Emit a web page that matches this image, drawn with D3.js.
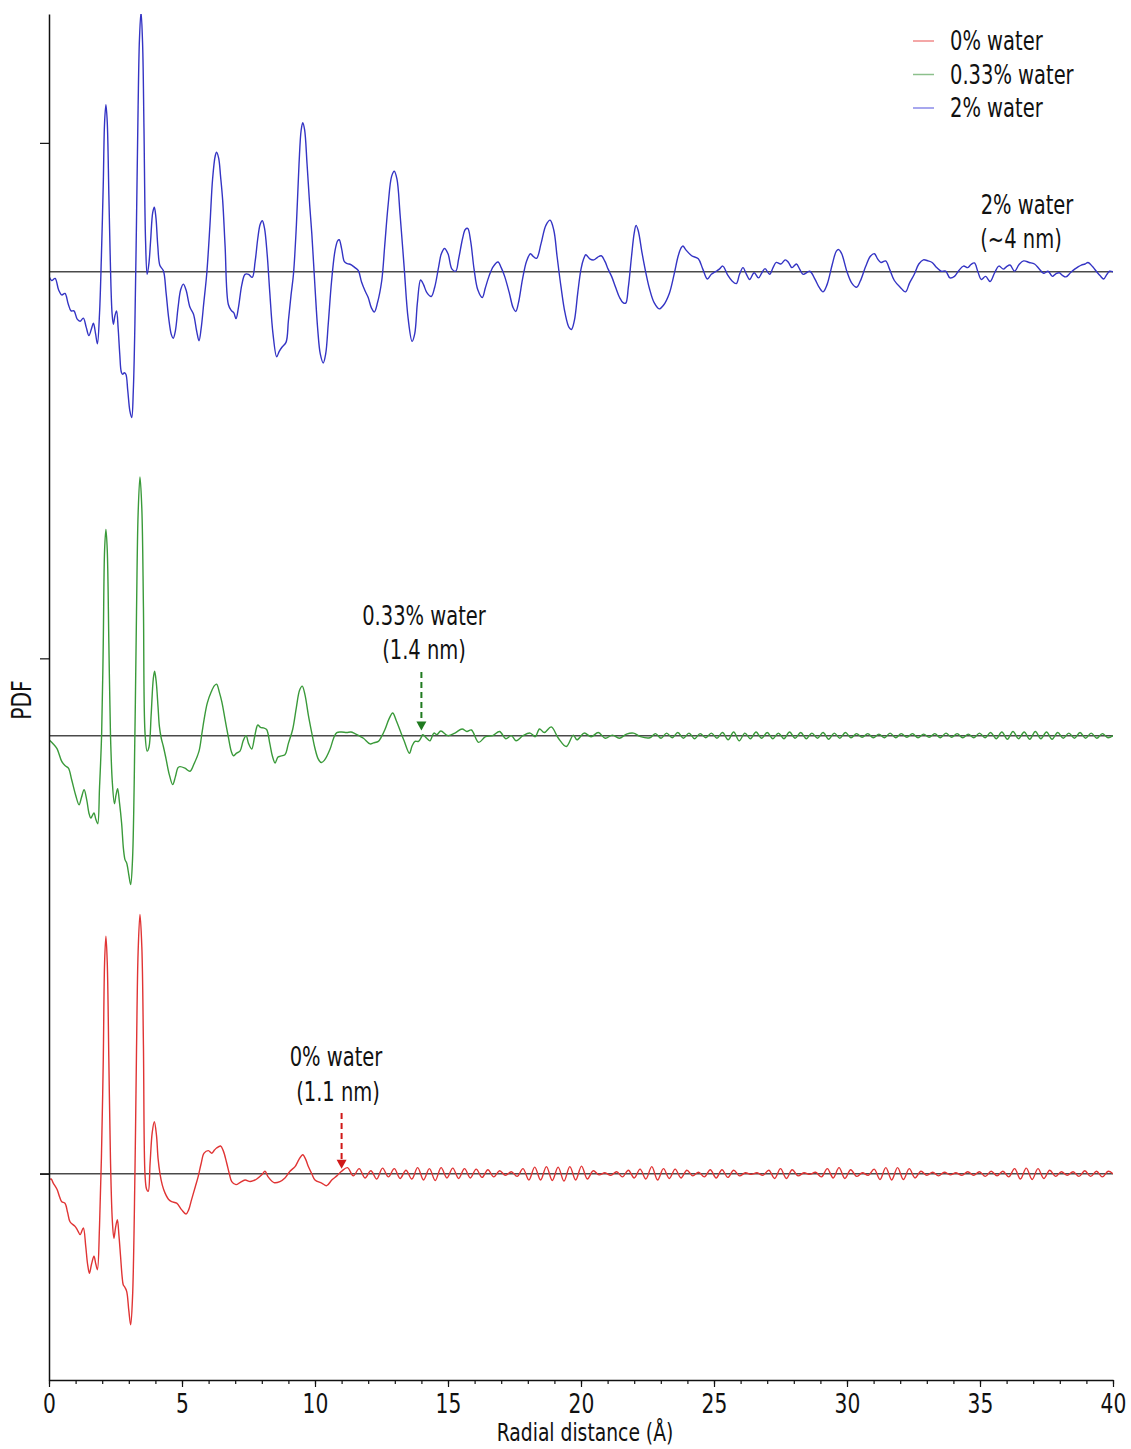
<!DOCTYPE html>
<html><head><meta charset="utf-8">
<script src="https://cdn.jsdelivr.net/npm/d3@7"></script>
<style>body{margin:0;background:#fff}svg{display:block}</style>
</head><body>
<svg id="chart" width="1131" height="1449"></svg>
<script>
// ---------- data ----------
const seriesNames = ["0% water", "0.33% water", "2% water"];
const seriesOffsets = [0, 8.5, 17.5];
const xTicks = [0, 5, 10, 15, 20, 25, 30, 35, 40];
const xMinorTicks = d3.range(0, 41, 1);
const yTicks = [0, 10, 20];
const xTitle = "Radial distance (Å)";
const yTitle = "PDF";

const red = [[0.00,-0.12],[0.08,-0.10],[0.16,-0.18],[0.30,-0.30],[0.40,-0.45],[0.48,-0.54],[0.60,-0.57],[0.70,-0.75],[0.79,-0.93],[0.98,-1.02],[1.08,-1.10],[1.17,-1.18],[1.29,-1.05],[1.38,-1.40],[1.45,-1.75],[1.52,-1.93],[1.60,-1.75],[1.69,-1.60],[1.76,-1.75],[1.82,-1.86],[1.90,-1.00],[1.97,0.30],[2.04,2.20],[2.09,4.10],[2.14,4.61],[2.19,4.10],[2.25,2.20],[2.31,0.30],[2.38,-0.90],[2.44,-1.25],[2.50,-1.05],[2.57,-0.89],[2.63,-1.20],[2.69,-1.60],[2.75,-2.00],[2.79,-2.15],[2.85,-2.20],[2.92,-2.28],[3.00,-2.65],[3.07,-2.93],[3.14,-2.40],[3.23,-0.02],[3.29,2.40],[3.35,4.30],[3.42,5.03],[3.49,4.40],[3.55,2.50],[3.61,-0.02],[3.67,-0.30],[3.73,-0.34],[3.80,0.20],[3.88,0.80],[3.96,1.01],[4.04,0.75],[4.10,0.30],[4.17,0.01],[4.26,-0.22],[4.36,-0.37],[4.50,-0.50],[4.61,-0.54],[4.80,-0.57],[4.99,-0.70],[5.15,-0.78],[5.25,-0.70],[5.36,-0.50],[5.50,-0.25],[5.61,-0.05],[5.72,0.20],[5.83,0.40],[5.99,0.45],[6.12,0.40],[6.22,0.46],[6.30,0.50],[6.45,0.54],[6.55,0.45],[6.68,0.21],[6.78,0.00],[6.87,-0.15],[7.03,-0.21],[7.18,-0.17],[7.37,-0.12],[7.56,-0.15],[7.70,-0.13],[7.81,-0.10],[8.00,-0.02],[8.12,0.05],[8.24,-0.06],[8.46,-0.17],[8.68,-0.15],[8.87,-0.08],[9.06,0.05],[9.25,0.14],[9.40,0.28],[9.54,0.37],[9.65,0.28],[9.75,0.14],[9.88,0.00],[10.00,-0.12],[10.25,-0.18],[10.44,-0.23],[10.63,-0.12],[10.82,-0.04],[11.00,0.05],
[11.22,0.12],[11.44,-0.04],[11.66,0.10],[11.88,-0.08],[12.10,0.06],[12.32,-0.10],[12.54,0.11],[12.76,-0.06],[12.98,0.10],[13.20,-0.09],[13.42,0.07],[13.64,-0.10],[13.86,0.12],[14.08,-0.12],[14.30,0.10],[14.52,-0.13],[14.74,0.12],[14.96,-0.08],[15.18,0.11],[15.40,-0.09],[15.62,0.10],[15.84,-0.08],[16.06,0.09],[16.28,-0.07],[16.50,0.08],[16.72,-0.06],[16.94,0.06],[17.16,-0.03],[17.38,0.04],[17.60,-0.05],[17.82,0.10],[18.04,-0.12],[18.26,0.13],[18.48,-0.12],[18.70,0.14],[18.92,-0.13],[19.14,0.13],[19.36,-0.14],[19.58,0.14],[19.80,-0.12],[20.02,0.15],[20.24,-0.10],[20.46,0.06],[20.68,-0.02],[20.90,0.02],[21.12,-0.03],[21.34,0.04],[21.56,-0.06],[21.78,0.07],[22.00,-0.08],[22.22,0.09],[22.44,-0.10],[22.66,0.14],[22.88,-0.12],[23.10,0.10],[23.32,-0.09],[23.54,0.09],[23.76,-0.08],[23.98,0.07],[24.20,-0.04],[24.42,0.03],[24.64,-0.06],[24.86,0.08],[25.08,-0.08],[25.30,0.08],[25.52,-0.07],[25.74,0.07],[25.96,-0.04],[26.18,0.02],[26.40,-0.01],[26.62,0.02],[26.84,-0.03],[27.06,0.07],[27.28,-0.09],[27.50,0.10],[27.72,-0.09],[27.94,0.08],[28.16,-0.04],[28.38,0.02],[28.60,-0.01],[28.82,0.03],[29.04,-0.06],[29.26,0.10],[29.48,-0.08],[29.70,0.12],[29.92,-0.09],[30.14,0.08],[30.36,-0.05],[30.58,0.02],[30.80,-0.03],[31.02,0.09],[31.24,-0.11],[31.46,0.12],[31.68,-0.12],[31.90,0.12],[32.12,-0.11],[32.34,0.10],[32.56,-0.08],[32.78,0.05],[33.00,-0.03],[33.22,0.03],[33.44,-0.04],[33.66,0.03],[33.88,-0.02],[34.10,0.02],[34.32,-0.03],[34.54,0.04],[34.76,-0.03],[34.98,0.04],[35.20,-0.05],[35.42,0.05],[35.64,-0.04],[35.86,0.05],[36.08,-0.06],[36.30,0.10],[36.52,-0.10],[36.74,0.11],[36.96,-0.11],[37.18,0.10],[37.40,-0.09],[37.62,0.07],[37.84,-0.05],[38.06,0.04],[38.28,-0.03],[38.50,0.04],[38.72,-0.05],[38.94,0.06],[39.16,-0.05],[39.38,0.05],[39.60,-0.06],[39.82,0.05],[40.00,0.00]];

const green = [[0.00,-0.08],[0.16,-0.16],[0.30,-0.25],[0.48,-0.50],[0.60,-0.58],[0.73,-0.63],[0.85,-0.85],[1.00,-1.15],[1.13,-1.34],[1.22,-1.20],[1.32,-1.05],[1.42,-1.25],[1.50,-1.50],[1.57,-1.60],[1.63,-1.55],[1.69,-1.50],[1.76,-1.62],[1.83,-1.71],[1.90,-1.00],[1.98,0.05],[2.04,1.80],[2.09,3.60],[2.14,4.00],[2.19,3.60],[2.25,1.80],[2.31,0.05],[2.38,-0.90],[2.46,-1.32],[2.52,-1.15],[2.58,-1.03],[2.65,-1.30],[2.73,-1.70],[2.80,-2.20],[2.86,-2.41],[2.92,-2.47],[3.00,-2.70],[3.07,-2.89],[3.14,-2.40],[3.23,0.05],[3.29,2.40],[3.35,4.30],[3.42,5.02],[3.49,4.40],[3.55,2.50],[3.61,0.05],[3.69,-0.30],[3.76,-0.22],[3.84,0.40],[3.92,1.10],[3.97,1.25],[4.03,1.05],[4.10,0.55],[4.15,0.18],[4.22,-0.05],[4.30,-0.21],[4.40,-0.45],[4.52,-0.75],[4.65,-0.95],[4.75,-0.80],[4.85,-0.62],[4.92,-0.60],[5.11,-0.63],[5.30,-0.69],[5.45,-0.55],[5.64,-0.30],[5.75,0.05],[5.83,0.31],[5.95,0.63],[6.10,0.85],[6.22,0.97],[6.30,1.00],[6.40,0.85],[6.50,0.65],[6.62,0.31],[6.75,-0.05],[6.85,-0.30],[6.93,-0.39],[7.05,-0.34],[7.18,-0.30],[7.30,-0.10],[7.41,0.00],[7.50,-0.15],[7.62,-0.26],[7.72,-0.05],[7.80,0.15],[7.85,0.21],[7.95,0.16],[8.06,0.15],[8.18,0.12],[8.30,-0.15],[8.40,-0.40],[8.50,-0.53],[8.60,-0.42],[8.68,-0.40],[8.87,-0.37],[9.00,-0.15],[9.16,0.12],[9.30,0.55],[9.42,0.88],[9.52,0.96],[9.62,0.80],[9.75,0.40],[9.88,0.05],[10.00,-0.25],[10.12,-0.45],[10.23,-0.52],[10.35,-0.48],[10.56,-0.27],[10.70,-0.05],[10.82,0.06],[11.00,0.07],[11.19,0.06],[11.35,0.07],[11.50,0.04],[11.65,0.00],[11.82,-0.05],[12.07,-0.16],[12.20,-0.14],[12.38,-0.11],[12.50,-0.02],[12.63,0.12],[12.78,0.32],[12.92,0.44],[13.05,0.30],[13.20,0.10],[13.35,-0.10],[13.55,-0.34],[13.65,-0.20],[13.76,-0.11],[13.89,-0.11],[13.99,-0.04],[14.05,0.02],[14.20,-0.05],[14.32,-0.10],[14.47,0.05],[14.58,0.02],[14.73,0.09],[15.00,0.00],[15.26,0.05],[15.53,0.13],[15.71,0.08],[15.88,0.11],[16.15,-0.13],[16.41,-0.02],[16.68,0.00],[16.94,0.08],[17.17,-0.06],[17.38,0.00],[17.56,-0.10],[17.82,0.00],[18.09,0.05],[18.28,-0.02],[18.44,0.13],[18.62,0.06],[18.88,0.17],[19.15,-0.05],[19.45,-0.21],[19.71,0.01],[19.85,-0.08],[20.12,0.05],[20.38,-0.02],[20.65,0.06],[20.91,-0.05],[21.18,0.01],[21.44,-0.05],[21.71,0.03],[21.97,0.05],[22.24,-0.02],[22.59,-0.04],
[22.80,0.04],[23.01,-0.05],[23.22,0.05],[23.43,-0.04],[23.64,0.06],[23.85,-0.05],[24.06,0.05],[24.27,-0.06],[24.48,0.04],[24.69,-0.04],[24.90,0.05],[25.11,-0.05],[25.32,0.06],[25.53,-0.08],[25.74,0.07],[25.95,-0.10],[26.16,0.05],[26.37,-0.06],[26.58,0.07],[26.79,-0.05],[27.00,0.06],[27.21,-0.06],[27.42,0.05],[27.63,-0.06],[27.84,0.07],[28.05,-0.05],[28.26,0.06],[28.47,-0.06],[28.68,0.05],[28.89,-0.05],[29.10,0.06],[29.31,-0.07],[29.52,0.05],[29.73,-0.05],[29.94,0.06],[30.15,-0.04],[30.36,0.04],[30.57,-0.03],[30.78,0.04],[30.99,-0.04],[31.20,0.03],[31.41,-0.04],[31.62,0.05],[31.83,-0.04],[32.04,0.04],[32.25,-0.03],[32.46,0.04],[32.67,-0.04],[32.88,0.03],[33.09,-0.03],[33.30,0.04],[33.51,-0.04],[33.72,0.05],[33.93,-0.03],[34.14,0.04],[34.35,-0.04],[34.56,0.03],[34.77,-0.04],[34.98,0.05],[35.19,-0.04],[35.40,0.06],[35.61,-0.06],[35.82,0.07],[36.03,-0.07],[36.24,0.08],[36.45,-0.06],[36.66,0.07],[36.87,-0.07],[37.08,0.08],[37.29,-0.06],[37.50,0.07],[37.71,-0.07],[37.92,0.06],[38.13,-0.05],[38.34,0.05],[38.55,-0.05],[38.76,0.06],[38.97,-0.05],[39.18,0.05],[39.39,-0.05],[39.60,0.04],[39.81,-0.04],[40.00,0.00]];

const blue = [[0.00,-0.08],[0.10,-0.17],[0.23,-0.13],[0.36,-0.35],[0.48,-0.45],[0.60,-0.42],[0.72,-0.62],[0.83,-0.76],[0.94,-0.76],[1.06,-0.92],[1.17,-0.96],[1.29,-0.90],[1.40,-1.08],[1.50,-1.24],[1.60,-1.10],[1.67,-1.00],[1.75,-1.20],[1.82,-1.40],[1.90,-0.80],[1.97,0.30],[2.04,1.70],[2.09,2.90],[2.14,3.24],[2.19,2.90],[2.25,1.50],[2.31,0.10],[2.37,-0.80],[2.42,-1.02],[2.48,-0.85],[2.54,-0.76],[2.60,-1.10],[2.66,-1.60],[2.72,-1.95],[2.77,-1.99],[2.83,-1.96],[2.89,-1.99],[2.96,-2.30],[3.04,-2.70],[3.11,-2.83],[3.17,-2.30],[3.23,-1.00],[3.29,1.00],[3.35,3.20],[3.40,4.50],[3.46,5.05],[3.52,4.40],[3.57,2.80],[3.63,0.60],[3.69,-0.05],[3.76,0.18],[3.82,0.60],[3.90,1.15],[3.96,1.25],[4.02,1.05],[4.09,0.50],[4.17,0.12],[4.30,0.02],[4.40,-0.40],[4.50,-0.90],[4.60,-1.22],[4.67,-1.29],[4.75,-1.15],[4.85,-0.70],[4.95,-0.35],[5.05,-0.24],[5.15,-0.35],[5.30,-0.69],[5.43,-0.82],[5.55,-1.15],[5.64,-1.34],[5.72,-1.10],[5.82,-0.60],[5.93,-0.04],[6.05,0.90],[6.15,1.80],[6.25,2.25],[6.30,2.32],[6.38,2.20],[6.45,1.85],[6.53,1.38],[6.62,0.50],[6.74,-0.63],[6.85,-0.75],[6.95,-0.80],[7.03,-0.91],[7.12,-0.70],[7.25,-0.25],[7.37,-0.05],[7.50,-0.05],[7.64,-0.11],[7.75,0.20],[7.85,0.65],[7.94,0.92],[8.02,0.99],[8.10,0.85],[8.20,0.35],[8.30,-0.40],[8.42,-1.20],[8.56,-1.65],[8.65,-1.55],[8.75,-1.47],[8.91,-1.37],[9.00,-0.95],[9.10,-0.45],[9.19,-0.05],[9.30,0.90],[9.40,2.10],[9.48,2.75],[9.54,2.89],[9.61,2.75],[9.70,2.10],[9.80,1.30],[9.88,0.74],[10.00,-0.30],[10.10,-1.10],[10.20,-1.60],[10.31,-1.77],[10.40,-1.60],[10.50,-1.00],[10.62,-0.20],[10.75,0.40],[10.85,0.60],[10.91,0.62],[11.00,0.45],[11.10,0.20],[11.19,0.16],[11.28,0.15],[11.38,0.13],[11.50,0.08],[11.63,0.02],[11.75,-0.20],[11.88,-0.37],[12.00,-0.50],[12.12,-0.70],[12.23,-0.78],[12.35,-0.60],[12.51,-0.17],[12.62,0.50],[12.75,1.30],[12.88,1.85],[12.98,1.95],[13.08,1.80],[13.20,1.10],[13.35,0.10],[13.50,-0.90],[13.65,-1.35],[13.75,-1.20],[13.85,-0.60],[13.97,-0.16],[14.08,-0.25],[14.20,-0.40],[14.37,-0.48],[14.50,-0.30],[14.65,0.10],[14.75,0.35],[14.87,0.45],[15.00,0.35],[15.15,0.05],[15.29,0.01],[15.40,0.25],[15.55,0.65],[15.65,0.82],[15.74,0.84],[15.85,0.60],[15.98,0.05],[16.12,-0.35],[16.29,-0.50],[16.40,-0.32],[16.54,-0.09],[16.70,0.10],[16.88,0.19],[17.00,0.08],[17.13,-0.09],[17.30,-0.40],[17.45,-0.70],[17.55,-0.77],[17.65,-0.60],[17.80,-0.15],[17.95,0.20],[18.10,0.35],[18.20,0.30],[18.33,0.26],[18.50,0.55],[18.68,0.90],[18.84,1.00],[18.98,0.80],[19.10,0.30],[19.25,-0.30],[19.40,-0.80],[19.55,-1.08],[19.64,-1.12],[19.75,-0.95],[19.88,-0.40],[20.00,0.05],[20.10,0.25],[20.18,0.33],[20.33,0.25],[20.48,0.23],[20.62,0.28],[20.76,0.31],[20.90,0.20],[21.02,0.05],[21.15,-0.09],[21.30,-0.30],[21.45,-0.50],[21.58,-0.60],[21.68,-0.61],[21.78,-0.30],[21.90,0.30],[22.00,0.75],[22.07,0.90],[22.15,0.80],[22.30,0.35],[22.45,-0.05],[22.57,-0.32],[22.75,-0.60],[22.94,-0.72],[23.10,-0.65],[23.32,-0.42],[23.50,-0.05],[23.65,0.30],[23.75,0.45],[23.83,0.50],[23.95,0.42],[24.16,0.31],[24.41,0.25],[24.58,0.05],[24.75,-0.14],[24.90,-0.05],[25.08,0.01],[25.20,0.05],[25.33,0.11],[25.50,-0.05],[25.68,-0.18],[25.84,-0.23],[25.96,-0.05],[26.09,0.08],[26.22,-0.05],[26.34,-0.15],[26.51,-0.02],[26.67,-0.12],[26.80,-0.02],[26.92,0.06],[27.09,-0.05],[27.22,0.08],[27.34,0.18],[27.51,0.15],[27.68,0.23],[27.80,0.18],[27.93,0.08],[28.10,0.15],[28.22,0.05],[28.35,-0.05],[28.60,0.01],[28.80,-0.15],[28.95,-0.30],[29.10,-0.39],[29.25,-0.25],[29.45,0.15],[29.60,0.40],[29.69,0.43],[29.80,0.35],[30.00,0.00],[30.18,-0.22],[30.36,-0.30],[30.50,-0.18],[30.70,0.10],[30.88,0.30],[31.03,0.35],[31.15,0.25],[31.28,0.18],[31.45,0.21],[31.60,0.05],[31.78,-0.17],[32.00,-0.30],[32.20,-0.39],[32.35,-0.22],[32.53,-0.05],[32.70,0.15],[32.87,0.23],[33.05,0.21],[33.20,0.18],[33.37,0.08],[33.54,0.01],[33.71,0.01],[33.87,-0.12],[34.04,-0.09],[34.20,0.02],[34.38,0.11],[34.54,0.08],[34.66,0.14],[34.79,0.17],[34.92,0.00],[35.05,-0.15],[35.21,-0.09],[35.38,-0.19],[35.55,-0.02],[35.71,0.11],[35.88,0.05],[36.00,0.10],[36.13,0.13],[36.30,0.01],[36.47,0.14],[36.64,0.21],[36.85,0.18],[37.05,0.15],[37.22,0.06],[37.39,-0.03],[37.56,0.01],[37.72,-0.09],[37.85,-0.04],[37.98,-0.02],[38.10,-0.07],[38.23,-0.10],[38.40,-0.02],[38.56,0.05],[38.70,0.10],[38.81,0.13],[38.95,0.15],[39.06,0.18],[39.23,0.10],[39.40,-0.01],[39.52,-0.08],[39.65,-0.14],[39.77,-0.05],[39.87,0.01],[40.00,0.00]];

const seriesData = [red, green, blue];
const annotationLabels = ["0% water", "0.33% water", "2% water"];
const annotationSizes = ["(1.1 nm)", "(1.4 nm)", "(~4 nm)"];
const annotationR = [11.0, 14.0, null];

// ---------- style ----------
const colors = ["#e03434", "#3a9a3a", "#3434c4"];
const legendColors = ["#f08a8a", "#8cc08c", "#8a8ae8"];
const FONT = "'DejaVu Sans', Verdana, sans-serif";
const SX = 0.75;

const svg = d3.select("#chart");
const x = d3.scaleLinear().domain([0, 40]).range([49, 1113]);
const y = d3.scaleLinear().domain([-4, 22.5]).range([1380, 14]);

function label(g, px, py, str, size, anchor, rot) {
  return g.append("text")
    .attr("transform", `translate(${px},${py})` + (rot ? ` rotate(${rot})` : "") + ` scale(${SX},1)`)
    .attr("text-anchor", anchor || "middle")
    .attr("font-family", FONT).attr("font-size", size)
    .attr("fill", "#111")
    .text(str);
}

svg.append("defs").append("clipPath").attr("id", "plotclip")
  .append("rect").attr("x", 49).attr("y", 14).attr("width", 1064).attr("height", 1366);

// baselines
svg.append("g").selectAll("line").data(seriesOffsets).join("line")
  .attr("x1", (d, i) => i === 0 ? 40 : x(0)).attr("x2", x(40))
  .attr("y1", d => y(d)).attr("y2", d => y(d))
  .attr("stroke", "#4a4a4a").attr("stroke-width", 1.5);

// curves
const line = d3.line().curve(d3.curveCatmullRom.alpha(0.5));
svg.append("g").attr("clip-path", "url(#plotclip)")
  .selectAll("path").data(seriesData).join("path")
  .attr("d", (d, i) => line(d.map(p => [x(p[0]), y(p[1] + seriesOffsets[i])])))
  .attr("fill", "none")
  .attr("stroke", (d, i) => colors[i])
  .attr("stroke-width", 1.4)
  .attr("stroke-linejoin", "round");

// x axis
const xAxisMinor = d3.axisBottom(x).tickValues(xMinorTicks).tickSize(4).tickSizeOuter(0).tickFormat("");
const gxm = svg.append("g").attr("transform", `translate(0,${y(-4)})`).call(xAxisMinor);
gxm.select(".domain").remove();
gxm.selectAll("line").attr("stroke", "#111").attr("stroke-width", 1.2);
const xAxis = d3.axisBottom(x).tickValues(xTicks).tickSize(7).tickSizeOuter(0).tickPadding(7).tickFormat(d3.format("d"));
const gx = svg.append("g").attr("transform", `translate(0,${y(-4)})`).call(xAxis);
gx.select(".domain").attr("stroke", "#111").attr("stroke-width", 1.5);
gx.selectAll("line").attr("stroke", "#111").attr("stroke-width", 1.2);
gx.selectAll("text").attr("font-family", FONT).attr("font-size", 27).attr("fill", "#111")
  .attr("transform", `scale(${SX},1)`);

// y axis
const yAxis = d3.axisLeft(y).tickValues(yTicks).tickSize(9).tickSizeOuter(0).tickFormat("");
const gy = svg.append("g").attr("transform", `translate(${x(0)},0)`).call(yAxis);
gy.select(".domain").attr("stroke", "#111").attr("stroke-width", 1.5);
gy.selectAll("line").attr("stroke", "#111").attr("stroke-width", 1.2);

// titles
label(svg, 585, 1441, xTitle, 25, "middle");
label(svg, 31, 700, yTitle, 27, "middle", -90);

// legend
const leg = svg.append("g");
seriesNames.forEach((n, i) => {
  const ly = 41 + i * 33.5;
  leg.append("line").attr("x1", 913).attr("x2", 934).attr("y1", ly).attr("y2", ly)
    .attr("stroke", legendColors[i]).attr("stroke-width", 1.5);
  label(leg, 950, ly + 9, n, 26, "start");
});

// annotations
const ann = svg.append("g");
label(ann, 1027, 214, annotationLabels[2], 26, "middle");
label(ann, 1021, 248, annotationSizes[2], 26, "middle");
label(ann, 424, 625, annotationLabels[1], 26, "middle");
label(ann, 424, 659, annotationSizes[1], 26, "middle");
label(ann, 336, 1066, annotationLabels[0], 26, "middle");
label(ann, 338, 1101, annotationSizes[0], 26, "middle");

function arrow(r, yTop, yTip, color) {
  const ax = x(r);
  ann.append("line").attr("x1", ax).attr("x2", ax).attr("y1", yTop).attr("y2", yTip - 8)
    .attr("stroke", color).attr("stroke-width", 2).attr("stroke-dasharray", "6,4");
  ann.append("path").attr("d", `M${ax - 5},${yTip - 9} L${ax + 5},${yTip - 9} L${ax},${yTip} Z`)
    .attr("fill", color);
}
arrow(annotationR[1], 672, y(seriesOffsets[1] + 0.1), "#1f7a1f");
arrow(annotationR[0], 1113, y(seriesOffsets[0] + 0.1), "#d01818");
</script>
</body></html>
